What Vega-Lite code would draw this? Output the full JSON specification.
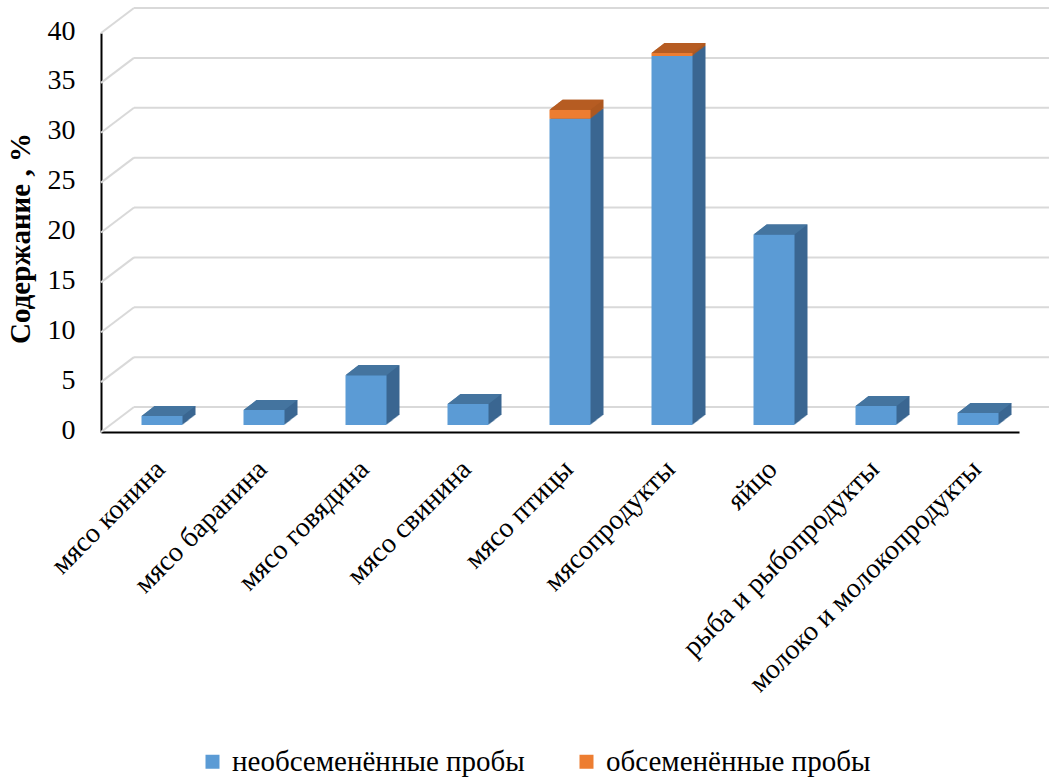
{
  "$schema": "https://vega.github.io/schema/vega-lite/v6.json",
  "width": 918,
  "height": 399,
  "autosize": "none",
  "padding": {"left": 101, "top": 33, "right": 30, "bottom": 348},
  "background": "white",
  "config": {
    "font": "Liberation Serif, DejaVu Serif, serif",
    "view": {"stroke": null},
    "axisY": {
      "domainColor": "#000000",
      "domainWidth": 2,
      "ticks": false,
      "tickSize": 0,
      "grid": false,
      "tickCount": 8,
      "labelFont": "Liberation Serif, DejaVu Serif, serif",
      "labelFontSize": 28,
      "labelColor": "#000000",
      "labelPadding": 26,
      "labelOffset": -2,
      "titleFont": "Liberation Serif, DejaVu Serif, serif",
      "titleFontSize": 29,
      "titleFontWeight": "bold",
      "titleColor": "#000000",
      "titleBaseline": "bottom",
      "titleX": -66,
      "titleY": 205,
      "zindex": 1
    },
    "axisX": {
      "domainColor": "#000000",
      "domainWidth": 2,
      "ticks": false,
      "tickSize": 0,
      "grid": false,
      "labelAngle": -45,
      "labelAlign": "right",
      "labelBaseline": "top",
      "labelFont": "Liberation Serif, DejaVu Serif, serif",
      "labelFontSize": 28,
      "labelColor": "#000000",
      "labelPadding": 23,
      "labelOffset": -1,
      "labelLimit": 500,
      "zindex": 1
    },
    "legend": {
      "labelFont": "Liberation Serif, DejaVu Serif, serif",
      "labelFontSize": 29,
      "labelColor": "#000000",
      "labelLimit": 500,
      "symbolType": "square",
      "symbolSize": 196,
      "symbolStrokeWidth": 0,
      "labelOffset": 5,
      "columnPadding": 47,
      "padding": 0
    }
  },
  "datasets": {
    "samples": [
      {"cat": "мясо конина", "series": "необсеменённые пробы", "value": 0.9},
      {"cat": "мясо баранина", "series": "необсеменённые пробы", "value": 1.5},
      {"cat": "мясо говядина", "series": "необсеменённые пробы", "value": 5.0},
      {"cat": "мясо свинина", "series": "необсеменённые пробы", "value": 2.1},
      {"cat": "мясо птицы", "series": "необсеменённые пробы", "value": 30.7},
      {"cat": "мясо птицы", "series": "обсеменённые пробы", "value": 0.9},
      {"cat": "мясопродукты", "series": "необсеменённые пробы", "value": 37.0},
      {"cat": "мясопродукты", "series": "обсеменённые пробы", "value": 0.3},
      {"cat": "яйцо", "series": "необсеменённые пробы", "value": 19.1},
      {"cat": "рыба и рыбопродукты", "series": "необсеменённые пробы", "value": 1.9},
      {"cat": "молоко и молокопродукты", "series": "необсеменённые пробы", "value": 1.2}
    ],
    "grid": [
      {"level": 0}, {"level": 5}, {"level": 10}, {"level": 15}, {"level": 20},
      {"level": 25}, {"level": 30}, {"level": 35}, {"level": 40}
    ]
  },
  "layer": [
    {
      "data": {"name": "grid"},
      "mark": {"type": "rule", "color": "#D9D9D9", "strokeWidth": 2, "xOffset": 33, "x2Offset": 33, "yOffset": -25, "y2Offset": -25},
      "encoding": {
        "x": {"datum": "мясо конина", "type": "nominal", "bandPosition": 0},
        "x2": {"value": "width"},
        "y": {"field": "level", "type": "quantitative", "title": "Содержание , %"},
        "y2": {"field": "level"}
      }
    },
    {
      "data": {"name": "grid"},
      "mark": {"type": "rule", "color": "#D9D9D9", "strokeWidth": 2, "x2Offset": 33, "y2Offset": -25},
      "encoding": {
        "x": {"datum": "мясо конина", "type": "nominal", "bandPosition": 0},
        "x2": {"datum": "мясо конина", "bandPosition": 0},
        "y": {"field": "level", "type": "quantitative", "title": "Содержание , %"},
        "y2": {"field": "level"}
      }
    },
    {
      "data": {"name": "samples"},
      "encoding": {
        "x": {
          "field": "cat",
          "type": "nominal",
          "title": null,
          "scale": {
            "domain": ["мясо конина", "мясо баранина", "мясо говядина", "мясо свинина", "мясо птицы", "мясопродукты", "яйцо", "рыба и рыбопродукты", "молоко и молокопродукты"],
            "paddingInner": 0,
            "paddingOuter": 0
          }
        },
        "y": {
          "field": "value",
          "type": "quantitative",
          "stack": "zero",
          "title": "Содержание , %",
          "scale": {"domain": [0, 40], "nice": false}
        },
        "order": {"field": "series"},
        "detail": {"field": "series"}
      },
      "layer": [
        {
          "encoding": {
            "color": {"condition": {"test": "datum.series === 'обсеменённые пробы'", "value": "#AD5920"}, "value": "#3B6791"}
          },
          "layer": [
            {"mark": {"type": "bar", "width": 41, "xOffset": 23, "yOffset": -17, "y2Offset": -17}},
            {"mark": {"type": "bar", "width": 41, "xOffset": 22, "yOffset": -16.23, "y2Offset": -16.23}},
            {"mark": {"type": "bar", "width": 41, "xOffset": 21, "yOffset": -15.46, "y2Offset": -15.46}},
            {"mark": {"type": "bar", "width": 41, "xOffset": 20, "yOffset": -14.69, "y2Offset": -14.69}},
            {"mark": {"type": "bar", "width": 41, "xOffset": 19, "yOffset": -13.92, "y2Offset": -13.92}},
            {"mark": {"type": "bar", "width": 41, "xOffset": 18, "yOffset": -13.15, "y2Offset": -13.15}},
            {"mark": {"type": "bar", "width": 41, "xOffset": 17, "yOffset": -12.38, "y2Offset": -12.38}},
            {"mark": {"type": "bar", "width": 41, "xOffset": 16, "yOffset": -11.62, "y2Offset": -11.62}},
            {"mark": {"type": "bar", "width": 41, "xOffset": 15, "yOffset": -10.85, "y2Offset": -10.85}},
            {"mark": {"type": "bar", "width": 41, "xOffset": 14, "yOffset": -10.08, "y2Offset": -10.08}},
            {"mark": {"type": "bar", "width": 41, "xOffset": 13, "yOffset": -9.31, "y2Offset": -9.31}},
            {"mark": {"type": "bar", "width": 41, "xOffset": 12, "yOffset": -8.54, "y2Offset": -8.54}},
            {"mark": {"type": "bar", "width": 41, "xOffset": 11, "yOffset": -7.77, "y2Offset": -7.77}}
          ]
        },
        {
          "mark": {"type": "bar", "width": 41, "xOffset": 10, "yOffset": -7, "y2Offset": -7},
          "encoding": {
            "color": {
              "field": "series",
              "type": "nominal",
              "scale": {"domain": ["необсеменённые пробы", "обсеменённые пробы"], "range": ["#5B9BD5", "#ED7D31"]},
              "legend": {"title": null, "orient": "none", "direction": "horizontal", "legendX": 97, "legendY": 714}
            }
          }
        }
      ]
    },
    {
      "data": {"name": "samples"},
      "transform": [
        {"stack": "value", "groupby": ["cat"], "sort": [{"field": "series"}], "as": ["v0", "v1"]},
        {"joinaggregate": [{"op": "max", "field": "v1", "as": "total"}], "groupby": ["cat"]},
        {"filter": "datum.v1 === datum.total"}
      ],
      "mark": {
        "type": "point",
        "filled": true,
        "opacity": 1,
        "strokeWidth": 0,
        "size": 3600,
        "shape": "M -0.9 0.1667 L 0.4667 0.1667 L 0.9 -0.1667 L -0.4667 -0.1667 Z",
        "xOffset": 16.5,
        "yOffset": -12
      },
      "encoding": {
        "x": {"field": "cat", "type": "nominal", "title": null},
        "y": {"field": "v1", "type": "quantitative", "title": "Содержание , %"},
        "color": {"condition": {"test": "datum.series === 'обсеменённые пробы'", "value": "#B65C22"}, "value": "#44749F"}
      }
    }
  ]
}
